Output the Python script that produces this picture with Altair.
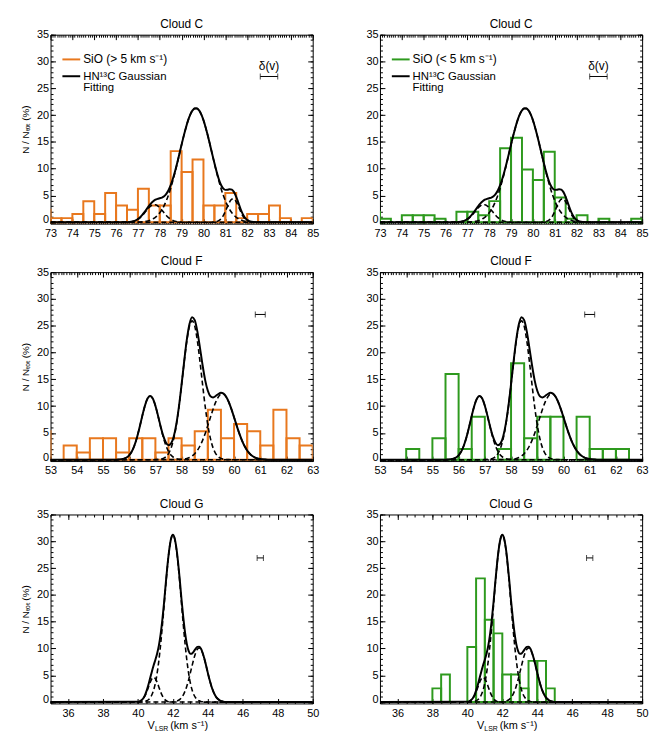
import altair as alt
import pandas as pd

ORANGE = "#E8781E"
GREEN = "#2E9A1E"
FONT = "Liberation Sans"
W, H = 265, 191
YDOM = [-0.25, 35]
YMAJOR = [0, 5, 10, 15, 20, 25, 30, 35]
YMINOR = list(range(0, 36))
BIN_W = 0.5

# ---------------- Cloud C ----------------
C_XDOM = [73, 85]
C_XMAJOR = list(range(73, 86))
C_BIN_START = [72.5, 73.0, 73.5, 74.0, 74.5, 75.0, 75.5, 76.0, 76.5, 77.0, 77.5, 78.0, 78.5,
               79.0, 79.5, 80.0, 80.5, 81.0, 81.5, 82.0, 82.5, 83.0, 83.5, 84.0, 84.5]
C_SIO_FAST = [2.34, 0.78, 0.78, 1.56, 3.91, 1.56, 5.47, 3.13, 2.34, 6.25, 3.13, 3.13, 13.28,
              9.38, 11.72, 3.13, 3.13, 5.47, 0.78, 1.56, 1.56, 3.13, 0.78, 0.0, 0.78]
C_SIO_SLOW = [1.97, 0.66, 0.0, 1.32, 1.32, 1.32, 0.66, 0.0, 1.97, 1.97, 1.32, 3.95, 13.82,
              15.79, 9.87, 7.89, 13.16, 4.61, 0.66, 1.32, 0.0, 0.66, 0.0, 0.0, 0.66]
C_FIT = [(73.0, 0.0), (76.3, 0.01), (76.4, 0.01), (76.5, 0.03), (76.6, 0.06), (76.7, 0.11),
         (76.8, 0.21), (76.9, 0.37), (77.0, 0.61), (77.1, 0.94), (77.2, 1.37), (77.3, 1.89),
         (77.4, 2.46), (77.5, 3.03), (77.6, 3.54), (77.7, 3.93), (77.8, 4.21), (77.9, 4.38),
         (78.0, 4.49), (78.1, 4.62), (78.2, 4.87), (78.3, 5.31), (78.4, 5.99), (78.5, 6.94),
         (78.6, 8.13), (78.7, 9.54), (78.8, 11.12), (78.9, 12.79), (79.0, 14.51), (79.1, 16.17),
         (79.2, 17.70), (79.3, 19.05), (79.4, 20.12), (79.5, 20.87), (79.6, 21.25), (79.7, 21.25),
         (79.8, 20.87), (79.9, 20.12), (80.0, 19.05), (80.1, 17.70), (80.2, 16.16), (80.3, 14.48),
         (80.4, 12.75), (80.5, 11.05), (80.6, 9.46), (80.7, 8.08), (80.8, 7.01), (80.9, 6.32),
         (81.0, 6.05), (81.1, 6.08), (81.2, 6.18), (81.3, 6.10), (81.4, 5.63), (81.5, 4.75),
         (81.6, 3.62), (81.7, 2.48), (81.8, 1.52), (81.9, 0.85), (82.0, 0.44), (82.1, 0.21),
         (82.2, 0.10), (82.3, 0.05), (82.4, 0.02), (82.5, 0.01), (82.6, 0.01), (85.0, 0.0)]
C_COMP1 = [(73.0, 0.0), (76.3, 0.004), (76.4, 0.011), (76.5, 0.025), (76.6, 0.053), (76.7, 0.105),
           (76.8, 0.197), (76.9, 0.345), (77.0, 0.57), (77.1, 0.88), (77.2, 1.28), (77.3, 1.75),
           (77.4, 2.25), (77.5, 2.72), (77.6, 3.08), (77.7, 3.27), (77.8, 3.27), (77.9, 3.08),
           (78.0, 2.72), (78.1, 2.25), (78.2, 1.75), (78.3, 1.28), (78.4, 0.88), (78.5, 0.57),
           (78.6, 0.345), (78.7, 0.197), (78.8, 0.105), (78.9, 0.053), (79.0, 0.025), (79.1, 0.011),
           (79.2, 0.004), (85.0, 0.0)]
C_COMP2 = [(73.0, 0.0), (77.0, 0.035), (77.1, 0.056), (77.2, 0.09), (77.3, 0.14), (77.4, 0.21),
           (77.5, 0.31), (77.6, 0.46), (77.7, 0.66), (77.8, 0.94), (77.9, 1.30), (78.0, 1.77),
           (78.1, 2.37), (78.2, 3.12), (78.3, 4.03), (78.4, 5.11), (78.5, 6.37), (78.6, 7.78),
           (78.7, 9.34), (78.8, 11.01), (78.9, 12.74), (79.0, 14.48), (79.1, 16.16), (79.2, 17.70),
           (79.3, 19.05), (79.4, 20.12), (79.5, 20.87), (79.6, 21.25), (79.7, 21.25), (79.8, 20.87),
           (79.9, 20.12), (80.0, 19.05), (80.1, 17.70), (80.2, 16.16), (80.3, 14.48), (80.4, 12.74),
           (80.5, 11.01), (80.6, 9.34), (80.7, 7.78), (80.8, 6.37), (80.9, 5.11), (81.0, 4.03),
           (81.1, 3.12), (81.2, 2.37), (81.3, 1.77), (81.4, 1.30), (81.5, 0.94), (81.6, 0.66),
           (81.7, 0.46), (81.8, 0.31), (81.9, 0.21), (82.0, 0.14), (82.1, 0.09), (82.2, 0.056),
           (82.3, 0.035), (85.0, 0.0)]
C_COMP3 = [(73.0, 0.0), (80.3, 0.004), (80.4, 0.014), (80.5, 0.044), (80.6, 0.12), (80.7, 0.30),
           (80.8, 0.64), (80.9, 1.21), (81.0, 2.02), (81.1, 2.96), (81.2, 3.81), (81.3, 4.33),
           (81.4, 4.33), (81.5, 3.81), (81.6, 2.96), (81.7, 2.02), (81.8, 1.21), (81.9, 0.64),
           (82.0, 0.30), (82.1, 0.12), (82.2, 0.044), (82.3, 0.014), (82.4, 0.004), (85.0, 0.0)]

# ---------------- Cloud F ----------------
F_XDOM = [53, 63]
F_XMAJOR = list(range(53, 64))
F_BIN_START = [52.5, 53.0, 53.5, 54.0, 54.5, 55.0, 55.5, 56.0, 56.5, 57.0, 57.5,
               58.0, 58.5, 59.0, 59.5, 60.0, 60.5, 61.0, 61.5, 62.0, 62.5]
F_SIO_FAST = [5.33, 0.0, 2.67, 1.33, 4.0, 4.0, 1.33, 4.0, 4.0, 1.33, 4.0,
              2.67, 5.33, 9.33, 4.0, 6.67, 5.33, 2.67, 9.33, 4.0, 2.67]
F_SIO_SLOW = [0.0, 0.0, 0.0, 2.0, 0.0, 4.0, 16.0, 2.0, 8.0, 0.0, 2.0,
              18.0, 4.0, 8.0, 8.0, 0.0, 8.0, 2.0, 2.0, 2.0, 0.0]
F_FIT = [(53.0, 0.0), (55.4, 0.003), (55.5, 0.01), (55.6, 0.03), (55.7, 0.077), (55.8, 0.18),
         (55.9, 0.41), (56.0, 0.83), (56.1, 1.54), (56.2, 2.66), (56.3, 4.20), (56.4, 6.11),
         (56.5, 8.18), (56.6, 10.07), (56.7, 11.41), (56.8, 11.90), (56.9, 11.42), (57.0, 10.08),
         (57.1, 8.22), (57.2, 6.21), (57.3, 4.45), (57.4, 3.21), (57.5, 2.69), (57.6, 3.04),
         (57.7, 4.34), (57.8, 6.69), (57.9, 10.01), (58.0, 14.10), (58.1, 18.46), (58.2, 22.44),
         (58.3, 25.33), (58.4, 26.59), (58.5, 26.04), (58.6, 23.94), (58.7, 20.88), (58.8, 17.62),
         (58.9, 14.81), (59.0, 12.86), (59.1, 11.85), (59.2, 11.63), (59.3, 11.89), (59.4, 12.26),
         (59.5, 12.48), (59.6, 12.33), (59.7, 11.75), (59.8, 10.75), (59.9, 9.43), (60.0, 7.92),
         (60.1, 6.37), (60.2, 4.91), (60.3, 3.62), (60.4, 2.56), (60.5, 1.73), (60.6, 1.12),
         (60.7, 0.69), (60.8, 0.41), (60.9, 0.23), (61.0, 0.13), (61.1, 0.066), (61.2, 0.033),
         (61.3, 0.016), (61.4, 0.007), (63.0, 0.0)]
F_COMP1 = [(53.0, 0.0), (55.4, 0.003), (55.5, 0.01), (55.6, 0.03), (55.7, 0.077), (55.8, 0.18),
           (55.9, 0.41), (56.0, 0.83), (56.1, 1.54), (56.2, 2.66), (56.3, 4.20), (56.4, 6.11),
           (56.5, 8.18), (56.6, 10.07), (56.7, 11.41), (56.8, 11.90), (56.9, 11.41), (57.0, 10.07),
           (57.1, 8.18), (57.2, 6.11), (57.3, 4.20), (57.4, 2.66), (57.5, 1.54), (57.6, 0.83),
           (57.7, 0.41), (57.8, 0.18), (57.9, 0.077), (58.0, 0.03), (58.1, 0.01), (58.2, 0.003),
           (63.0, 0.0)]
F_COMP2 = [(53.0, 0.0), (56.9, 0.005), (57.0, 0.014), (57.1, 0.039), (57.2, 0.10), (57.3, 0.25),
           (57.4, 0.55), (57.5, 1.15), (57.6, 2.21), (57.7, 3.93), (57.8, 6.49), (57.9, 9.90),
           (58.0, 14.00), (58.1, 18.32), (58.2, 22.21), (58.3, 24.92), (58.4, 25.90), (58.5, 24.92),
           (58.6, 22.21), (58.7, 18.32), (58.8, 14.00), (58.9, 9.90), (59.0, 6.49), (59.1, 3.93),
           (59.2, 2.21), (59.3, 1.15), (59.4, 0.55), (59.5, 0.25), (59.6, 0.10), (59.7, 0.039),
           (59.8, 0.014), (59.9, 0.005), (63.0, 0.0)]
F_COMP3 = [(53.0, 0.0), (57.8, 0.016), (57.9, 0.033), (58.0, 0.066), (58.1, 0.13), (58.2, 0.23),
           (58.3, 0.41), (58.4, 0.69), (58.5, 1.12), (58.6, 1.73), (58.7, 2.56), (58.8, 3.62),
           (58.9, 4.91), (59.0, 6.37), (59.1, 7.92), (59.2, 9.42), (59.3, 10.74), (59.4, 11.71),
           (59.5, 12.23), (59.6, 12.23), (59.7, 11.71), (59.8, 10.74), (59.9, 9.42), (60.0, 7.92),
           (60.1, 6.37), (60.2, 4.91), (60.3, 3.62), (60.4, 2.56), (60.5, 1.73), (60.6, 1.12),
           (60.7, 0.69), (60.8, 0.41), (60.9, 0.23), (61.0, 0.13), (61.1, 0.066), (61.2, 0.033),
           (61.3, 0.016), (61.4, 0.007), (63.0, 0.0)]

# ---------------- Cloud G ----------------
G_XDOM = [35, 50]
G_XMAJOR = [36, 38, 40, 42, 44, 46, 48, 50]
G_BIN_START = [38.0, 38.5, 39.0, 39.5, 40.0, 40.5, 41.0, 41.5, 42.0, 42.5, 43.0, 43.5, 44.0, 44.5]
G_SIO_SLOW = [2.56, 5.13, 0.0, 0.0, 10.26, 23.08, 15.38, 12.82, 5.13, 5.13, 2.56, 7.69, 7.69, 2.56]
G_FIT = [(35.0, 0.0), (40.0, 0.06), (40.1, 0.14), (40.2, 0.33), (40.3, 0.68), (40.4, 1.27),
         (40.5, 2.13), (40.6, 3.23), (40.7, 4.48), (40.8, 5.72), (40.9, 6.86), (41.0, 7.91),
         (41.1, 9.08), (41.2, 10.59), (41.3, 12.69), (41.4, 15.45), (41.5, 18.72), (41.6, 22.40),
         (41.7, 25.83), (41.8, 28.65), (41.9, 30.52), (42.0, 31.24), (42.1, 30.58), (42.2, 28.76),
         (42.3, 25.99), (42.4, 22.61), (42.5, 18.95), (42.6, 15.67), (42.7, 12.88), (42.8, 10.81),
         (42.9, 9.55), (43.0, 9.01), (43.1, 9.07), (43.2, 9.46), (43.3, 9.95), (43.4, 10.30),
         (43.5, 10.34), (43.6, 9.98), (43.7, 9.21), (43.8, 8.12), (43.9, 6.82), (44.0, 5.45),
         (44.1, 4.15), (44.2, 3.01), (44.3, 2.08), (44.4, 1.37), (44.5, 0.85), (44.6, 0.51),
         (44.7, 0.29), (44.8, 0.16), (44.9, 0.08), (45.0, 0.04), (50.0, 0.0)]
G_COMP1 = [(35.0, 0.0), (39.8, 0.005), (39.9, 0.018), (40.0, 0.05), (40.1, 0.13), (40.2, 0.30),
           (40.3, 0.62), (40.4, 1.15), (40.5, 1.89), (40.6, 2.79), (40.7, 3.68), (40.8, 4.35),
           (40.9, 4.60), (41.0, 4.35), (41.1, 3.68), (41.2, 2.79), (41.3, 1.89), (41.4, 1.15),
           (41.5, 0.62), (41.6, 0.30), (41.7, 0.13), (41.8, 0.05), (41.9, 0.018), (42.0, 0.005),
           (50.0, 0.0)]
G_COMP2 = [(35.0, 0.0), (40.0, 0.005), (40.1, 0.01), (40.2, 0.03), (40.3, 0.06), (40.4, 0.12),
           (40.5, 0.24), (40.6, 0.44), (40.7, 0.80), (40.8, 1.37), (40.9, 2.26), (41.0, 3.56),
           (41.1, 5.40), (41.2, 7.80), (41.3, 10.80), (41.4, 14.30), (41.5, 18.10), (41.6, 22.10),
           (41.7, 25.70), (41.8, 28.60), (41.9, 30.50), (42.0, 31.20), (42.1, 30.50), (42.2, 28.60),
           (42.3, 25.70), (42.4, 22.10), (42.5, 18.10), (42.6, 14.30), (42.7, 10.80), (42.8, 7.80),
           (42.9, 5.40), (43.0, 3.56), (43.1, 2.26), (43.2, 1.37), (43.3, 0.80), (43.4, 0.44),
           (43.5, 0.24), (43.6, 0.12), (43.7, 0.06), (43.8, 0.03), (43.9, 0.01), (44.0, 0.005),
           (50.0, 0.0)]
G_COMP3 = [(35.0, 0.0), (41.9, 0.02), (42.0, 0.04), (42.1, 0.08), (42.2, 0.16), (42.3, 0.29),
           (42.4, 0.51), (42.5, 0.85), (42.6, 1.37), (42.7, 2.08), (42.8, 3.01), (42.9, 4.15),
           (43.0, 5.45), (43.1, 6.81), (43.2, 8.09), (43.3, 9.15), (43.4, 9.86), (43.5, 10.10),
           (43.6, 9.86), (43.7, 9.15), (43.8, 8.09), (43.9, 6.81), (44.0, 5.45), (44.1, 4.15),
           (44.2, 3.01), (44.3, 2.08), (44.4, 1.37), (44.5, 0.85), (44.6, 0.51), (44.7, 0.29),
           (44.8, 0.16), (44.9, 0.08), (45.0, 0.04), (45.1, 0.02), (50.0, 0.0)]

# velocity resolution bars  delta(v): centre, half width, height (%)
DV_CENTER = {"C": 83.0, "F": 61.0, "G": 47.0}
DV_HALF = {"C": 0.40, "F": 0.19, "G": 0.18}
DV_Y = {"C": 27.2, "F": 27.1, "G": 26.9}

YTITLE = "N / N\u209c\u2092\u209c (%)"
DUMMY = pd.DataFrame({"k": [0]})
ZERO_LABEL_SHIFT = {"condition": {"test": "datum.value === 0", "value": -2.5}, "value": 0}


def minor_values(lo, hi, step):
    n = int(round((hi - lo) / step))
    return [round(lo + i * step, 3) for i in range(n + 1)]


def axis_layers(xdom, xmajor, xminor, xs, ys, ytitle):
    frame = pd.DataFrame({"x": xdom, "y": YDOM})
    base = alt.Chart(frame).mark_point(opacity=0)
    common = dict(domain=False, grid=False, tickColor="black", tickWidth=1,
                  labelFlush=False, labelOverlap=False)
    ytitle_kw = dict(title=ytitle, titleFontSize=10, titleFontWeight="normal",
                     titleColor="black", titlePadding=6) if ytitle else dict(title=None)
    major = base.encode(
        x=alt.X("x:Q", scale=xs, axis=alt.Axis(orient="bottom", values=xmajor, tickSize=5, offset=-5,
                                               labelPadding=4, labelFontSize=11, labelColor="black",
                                               format="d", title=None, **common)),
        y=alt.Y("y:Q", scale=ys, axis=alt.Axis(orient="left", values=YMAJOR, tickSize=5, offset=-5,
                                               labelPadding=2, labelFontSize=11, labelColor="black",
                                               format="d", labelOffset=ZERO_LABEL_SHIFT,
                                               **ytitle_kw, **common)))
    minor = base.encode(
        x=alt.X("x:Q", scale=xs, axis=alt.Axis(orient="bottom", values=xminor, tickSize=2.5, offset=-2.5,
                                               labels=False, title=None, **common)),
        y=alt.Y("y:Q", scale=ys, axis=alt.Axis(orient="left", values=YMINOR, tickSize=2.5, offset=-2.5,
                                               labels=False, title=None, **common)))
    major2 = base.encode(
        x=alt.X("x:Q", scale=xs, axis=alt.Axis(orient="top", values=xmajor, tickSize=5, offset=-5,
                                               labels=False, title=None, **common)),
        y=alt.Y("y:Q", scale=ys, axis=alt.Axis(orient="right", values=YMAJOR, tickSize=5, offset=-5,
                                               labels=False, title=None, **common)))
    minor2 = base.encode(
        x=alt.X("x:Q", scale=xs, axis=alt.Axis(orient="top", values=xminor, tickSize=2.5, offset=-2.5,
                                               labels=False, title=None, **common)),
        y=alt.Y("y:Q", scale=ys, axis=alt.Axis(orient="right", values=YMINOR, tickSize=2.5, offset=-2.5,
                                               labels=False, title=None, **common)))
    return [major, minor, major2, minor2]


def hist_layer(starts, vals, color, xs, ys):
    df = pd.DataFrame({"x0": starts, "x1": [s + BIN_W for s in starts], "v": vals,
                       "b": [0.0] * len(vals)})
    return alt.Chart(df).transform_filter("datum.v > 0").mark_rect(
        fillOpacity=0, stroke=color, strokeWidth=2, clip=True).encode(
        x=alt.X("x0:Q", scale=xs, axis=None), x2="x1:Q",
        y=alt.Y("b:Q", scale=ys, axis=None), y2="v:Q")


def fit_layers(fit, comps, xs, ys):
    sdf = pd.DataFrame(fit, columns=["x", "y"])
    rows = []
    for i, comp in enumerate(comps):
        for x, y in comp:
            rows.append({"x": x, "y": y, "c": i})
    cdf = pd.DataFrame(rows)
    dashed = alt.Chart(cdf).mark_line(color="black", strokeWidth=1.6, strokeDash=[5, 3],
                                      interpolate="monotone", clip=True).encode(
        x=alt.X("x:Q", scale=xs, axis=None), y=alt.Y("y:Q", scale=ys, axis=None), detail="c:N")
    solid = alt.Chart(sdf).mark_line(color="black", strokeWidth=2, interpolate="monotone",
                                     clip=True).encode(
        x=alt.X("x:Q", scale=xs, axis=None), y=alt.Y("y:Q", scale=ys, axis=None))
    return [dashed, solid]


def dv_layers(key, xs, ys, with_text):
    c, h, y = DV_CENTER[key], DV_HALF[key], DV_Y[key]
    df = pd.DataFrame({"lo": [c - h], "hi": [c + h], "c": [c], "y": [y]})
    base = alt.Chart(df)
    out = [
        base.mark_rule(color="black", strokeWidth=1).encode(
            x=alt.X("lo:Q", scale=xs, axis=None), x2="hi:Q", y=alt.Y("y:Q", scale=ys, axis=None)),
        base.mark_tick(orient="vertical", size=6, thickness=1, color="black").encode(
            x=alt.X("lo:Q", scale=xs, axis=None), y=alt.Y("y:Q", scale=ys, axis=None)),
        base.mark_tick(orient="vertical", size=6, thickness=1, color="black").encode(
            x=alt.X("hi:Q", scale=xs, axis=None), y=alt.Y("y:Q", scale=ys, axis=None)),
    ]
    if with_text:
        out.append(base.mark_text(dy=-11, fontSize=12, color="black").encode(
            x=alt.X("c:Q", scale=xs, axis=None), y=alt.Y("y:Q", scale=ys, axis=None),
            text=alt.value("\u03b4(v)")))
    return out


def legend_layers(color, label):
    d = alt.Chart(DUMMY)
    return [
        d.mark_rule(color=color, strokeWidth=2).encode(x=alt.value(12), x2=alt.value(30), y=alt.value(25)),
        d.mark_text(align="left", baseline="middle", fontSize=12, color="black").encode(
            x=alt.value(33), y=alt.value(25), text=alt.value(label)),
        d.mark_rule(color="black", strokeWidth=2).encode(x=alt.value(12), x2=alt.value(30), y=alt.value(42)),
        d.mark_text(align="left", baseline="top", fontSize=11.5, lineHeight=11.5, color="black",
                    text=["HN\u00b9\u00b3C Gaussian", "Fitting"]).encode(
            x=alt.value(33), y=alt.value(36.5)),
    ]


def xtitle_layers():
    d = alt.Chart(DUMMY)
    return [
        d.mark_text(align="left", baseline="middle", fontSize=11, color="black").encode(
            x=alt.value(98), y=alt.value(H + 23), text=alt.value("V")),
        d.mark_text(align="left", baseline="middle", fontSize=7, color="black").encode(
            x=alt.value(105.5), y=alt.value(H + 26), text=alt.value("LSR")),
        d.mark_text(align="left", baseline="middle", fontSize=11, color="black").encode(
            x=alt.value(121), y=alt.value(H + 23), text=alt.value("(km s\u207b\u00b9)")),
    ]


def panel(title, key, xdom, xmajor, minor_step, hist, color, fit, comps,
          legend_label=None, ytitle=None, xtitle=False):
    xs = alt.Scale(domain=xdom, nice=False, zero=False)
    ys = alt.Scale(domain=YDOM, nice=False, zero=False)
    layers = axis_layers(xdom, xmajor, minor_values(xdom[0], xdom[1], minor_step), xs, ys, ytitle)
    if hist is not None:
        layers.append(hist_layer(hist[0], hist[1], color, xs, ys))
    layers += fit_layers(fit, comps, xs, ys)
    layers += dv_layers(key, xs, ys, legend_label is not None)
    if legend_label is not None:
        layers += legend_layers(color, legend_label)
    if xtitle:
        layers += xtitle_layers()
    return alt.layer(*layers).resolve_axis(x="independent", y="independent").properties(
        width=W, height=H,
        title=alt.TitleParams(text=title, fontSize=12, fontWeight="normal", offset=-2,
                              anchor="middle", color="black"))


C_COMPS = [C_COMP1, C_COMP2, C_COMP3]
F_COMPS = [F_COMP1, F_COMP2, F_COMP3]
G_COMPS = [G_COMP1, G_COMP2, G_COMP3]

row1 = alt.hconcat(
    panel("Cloud C", "C", C_XDOM, C_XMAJOR, 0.1, (C_BIN_START, C_SIO_FAST), ORANGE, C_FIT, C_COMPS,
          legend_label="SiO (> 5 km s\u207b\u00b9)", ytitle=YTITLE),
    panel("Cloud C", "C", C_XDOM, C_XMAJOR, 0.1, (C_BIN_START, C_SIO_SLOW), GREEN, C_FIT, C_COMPS,
          legend_label="SiO (< 5 km s\u207b\u00b9)"),
    spacing=46)
row2 = alt.hconcat(
    panel("Cloud F", "F", F_XDOM, F_XMAJOR, 0.1, (F_BIN_START, F_SIO_FAST), ORANGE, F_FIT, F_COMPS,
          ytitle=YTITLE),
    panel("Cloud F", "F", F_XDOM, F_XMAJOR, 0.1, (F_BIN_START, F_SIO_SLOW), GREEN, F_FIT, F_COMPS),
    spacing=46)
row3 = alt.hconcat(
    panel("Cloud G", "G", G_XDOM, G_XMAJOR, 0.5, None, ORANGE, G_FIT, G_COMPS,
          ytitle=YTITLE, xtitle=True),
    panel("Cloud G", "G", G_XDOM, G_XMAJOR, 0.5, (G_BIN_START, G_SIO_SLOW), GREEN, G_FIT, G_COMPS,
          xtitle=True),
    spacing=46)

chart = alt.vconcat(row1, alt.vconcat(row2, row3, spacing=20), spacing=15).properties(
    padding={"left": 12, "top": 5, "right": 5, "bottom": 5}
).configure(font=FONT).configure_view(stroke="black", strokeWidth=1)

chart.save("out.html", embed_options={"renderer": "svg", "actions": False})
